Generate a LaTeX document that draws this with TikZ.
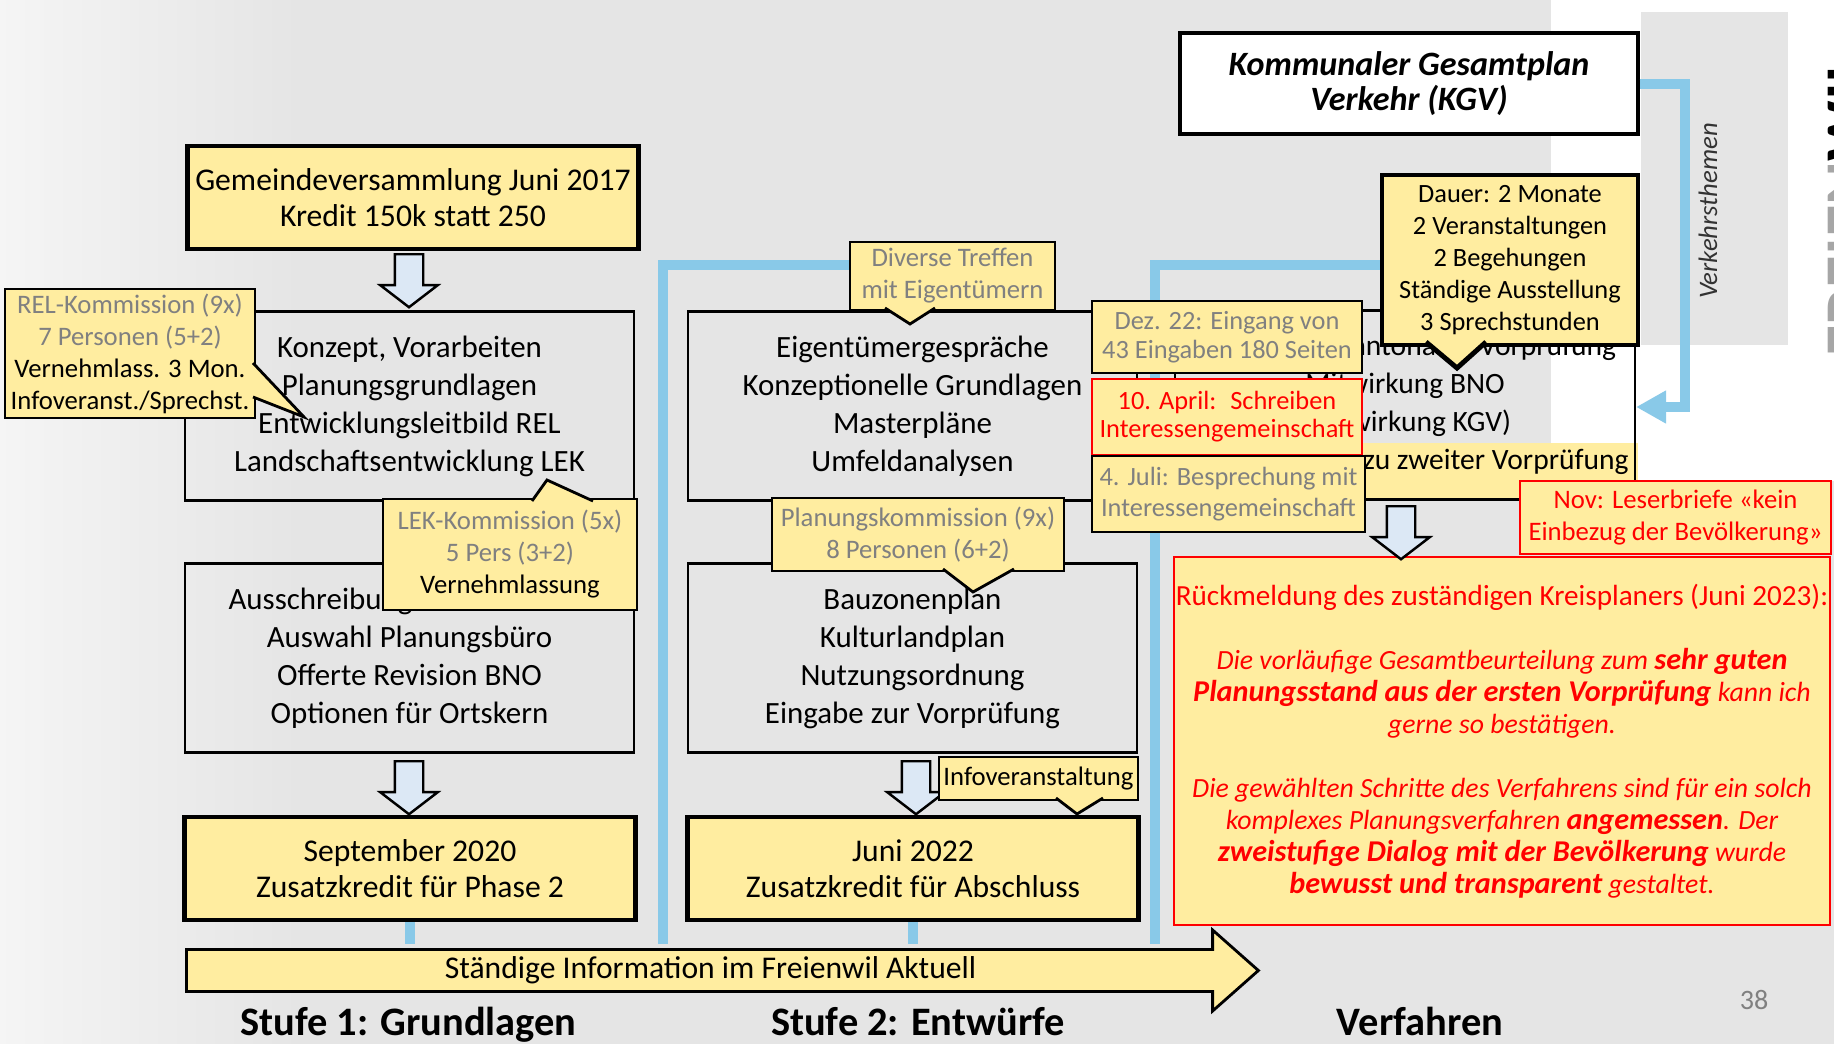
\documentclass[tikz,border=0pt]{standalone}
\usepackage{fontspec}
\setmainfont{Carlito}
\usetikzlibrary{shapes.arrows,arrows.meta,calc}
\definecolor{hgrau}{RGB}{229,229,229}
\definecolor{kgelb}{RGB}{255,237,160}
\definecolor{pfeilblau}{RGB}{220,232,245}
\definecolor{stufenblau}{RGB}{137,201,232}
\definecolor{txtgrau}{RGB}{128,128,128}
\definecolor{kred}{RGB}{255,0,0}
\newcommand{\ingrau}[1]{\textcolor{txtgrau}{#1}}
\newcommand{\fett}[1]{{\fontsize{8.6}{9.1}\selectfont\bfseries #1}}

\begin{document}
\begin{tikzpicture}[x=0.1mm, y=-0.1mm,
            every node/.style = {align=center, inner sep=0pt},
            arbeitbox/.style = {draw, line width=0.6pt, minimum width=44.9mm, minimum height=18.9mm,
                font=\fontsize{8.8}{10.8}\selectfont},
            kreditbox/.style = {draw, fill=kgelb, line width=1.2pt, minimum width=45.1mm, minimum height=10.3mm,
                font=\fontsize{9}{10.2}\selectfont},
            notiz/.style = {draw, fill=kgelb, line width=0.8pt, font=\fontsize{7.6}{9.1}\selectfont},
            zipfel/.style = {fill=kgelb, draw, line width=0.8pt},
            blockpfeil/.style = {single arrow, draw, fill=pfeilblau, line width=0.7pt, rotate=-90, anchor=tail,
                inner xsep=0pt, inner ysep=1.3mm, minimum height=5.3mm, single arrow head extend=1.45mm,
                single arrow tip angle=105},
            stufenlinie/.style = {draw=stufenblau, line width=1mm},
            stufe/.style = {anchor=base, font=\fontsize{11.5}{13}\selectfont\bfseries}
        ]
        \useasboundingbox (0,0) rectangle (1834,1044);
        \clip (0,0) rectangle (1834,1044);
        \fill[hgrau] (0,0) rectangle (1834,1044);
        \shade[left color=black!4, right color=hgrau] (0,0) rectangle (300,1044);
        \fill[white] (1551,0) rectangle (1834,481);
        \fill[hgrau] (1641,12) rectangle (1788,345);
        \node[rotate=90, anchor=north west, font=\fontsize{19}{19}\selectfont\bfseries] (logo) at (1827,357)
            {\textcolor{black!35}{FREIEN}WIL};

        \node[draw, fill=white, line width=0.9pt, minimum width=45.8mm, minimum height=10.1mm,
            font=\fontsize{9.7}{10}\selectfont\bfseries\itshape] (kgv) at (1409,83.5)
            {Kommunaler Gesamtplan\\Verkehr (KGV)};
        \node[rotate=90, font=\fontsize{7.6}{9}\selectfont\itshape, text=black!80] (vt) at (1708,211) {Verkehrsthemen};

        \coordinate (bandoben) at (0,944);
        \coordinate (s2ecke) at (663,265);
        \coordinate (s3ecke) at (1155,265);
        \coordinate (kgvknick) at (1685,407);

        \fill[kgelb] (1178,443) rectangle (1638,500);
        \node[arbeitbox, minimum width=46mm, font=\fontsize{8.4}{10.8}\selectfont] (s3) at (1405,405)
            {Eingabe zur kantonalen Vorprüfung\\Mitwirkung BNO\\(Mitwirkung KGV)\\Überarbeitung zu zweiter Vorprüfung};

        \node[kreditbox] (gv) at (413,197.5) {Gemeindeversammlung Juni 2017\\Kredit 150k statt 250};
        \node[arbeitbox] (konz) at (409.5,406)
            {Konzept, Vorarbeiten\\Planungsgrundlagen\\Entwicklungsleitbild REL\\Landschaftsentwicklung LEK};
        \node[arbeitbox] (aus) at (409.5,658)
            {Ausschreibung BNO-Revision\\Auswahl Planungsbüro\\Offerte Revision BNO\\Optionen für Ortskern};
        \node[kreditbox] (sep) at (410,868.5) {September 2020\\Zusatzkredit für Phase 2};
        \node[arbeitbox] (eig) at (912.5,406)
            {Eigentümergespräche\\Konzeptionelle Grundlagen\\Masterpläne\\Umfeldanalysen};
        \node[arbeitbox] (bau) at (912.5,658)
            {Bauzonenplan\\Kulturlandplan\\Nutzungsordnung\\Eingabe zur Vorprüfung};
        \node[kreditbox] (jun) at (913,868.5) {Juni 2022\\Zusatzkredit für Abschluss};

        \node[draw=kred, fill=kgelb, line width=0.7pt, minimum width=65.6mm, minimum height=36.8mm, text=kred,
            font=\fontsize{7.9}{9.1}\selectfont\itshape] (rueck) at (1502,741)
            {{\fontsize{8.3}{9.1}\selectfont\upshape Rückmeldung des zuständigen Kreisplaners (Juni 2023):}\\[9.1pt]
            Die vorläufige Gesamtbeurteilung zum \fett{sehr guten}\\
            \fett{Planungsstand aus der ersten Vorprüfung} kann ich\\
            gerne so bestätigen.\\[9.1pt]
            Die gewählten Schritte des Verfahrens sind für ein solch\\
            komplexes Planungsverfahren \fett{angemessen}. Der\\
            \fett{zweistufige Dialog mit der Bevölkerung} wurde\\
            \fett{bewusst und transparent} gestaltet.};

        \draw[stufenlinie] (sep.south) -- (sep.south |- bandoben);
        \draw[stufenlinie] (jun.south) -- (jun.south |- bandoben);
        \draw[stufenlinie] (952,265) -- (s2ecke) -- (s2ecke |- bandoben);
        \draw[stufenlinie] (1450,265) -- (s3ecke) -- (s3ecke |- bandoben);
        \draw[stufenlinie, -{Triangle[length=3mm, width=3.1mm]}] (kgv.east) -| (kgvknick) -- (kgvknick -| s3.east);

        \node[blockpfeil] (p1) at (409,253) {};
        \node[blockpfeil] (p2) at (409,760) {};
        \node[blockpfeil] (p3) at (916,760) {};
        \node[blockpfeil] (p4) at (1401,505) {};

        \node[single arrow, draw, fill=kgelb, line width=0.8pt, anchor=tail, minimum height=107.2mm, minimum width=8.1mm,
            single arrow head extend=1.4mm, single arrow tip angle=83, font=\fontsize{9}{9.5}\selectfont] (info)
            at (185,970.5) {Ständige Information im Freienwil Aktuell};

        \node[notiz, minimum width=25mm, minimum height=12.9mm] (rel) at (130,353.5)
            {\ingrau{REL-Kommission (9x)}\\\ingrau{7 Personen (5+2)}\\Vernehmlass. 3 Mon.\\Infoveranst./Sprechst.};
        \filldraw[zipfel] (253,363) -- (304,417) -- (253,397);
        \node[notiz, minimum width=25.4mm, minimum height=11.1mm] (lek) at (510,554.5)
            {\ingrau{LEK-Kommission (5x)}\\\ingrau{5 Pers (3+2)}\\Vernehmlassung};
        \filldraw[zipfel] (532,501) -- (547,480) -- (593,501);
        \node[notiz, minimum width=20.5mm, minimum height=6.8mm, text=txtgrau] (dtr) at (952.5,276)
            {Diverse Treffen\\mit Eigentümern};
        \filldraw[zipfel] (885,308) -- (910,324) -- (935,308);
        \node[notiz, minimum width=29.2mm, minimum height=7.3mm, text=txtgrau] (pk) at (918,534.5)
            {Planungskommission (9x)\\8 Personen (6+2)};
        \filldraw[zipfel] (943,569) -- (973,592) -- (1014,569);
        \node[notiz, minimum width=19.9mm, minimum height=4.3mm] (iva) at (1038.5,778.5) {Infoveranstaltung};
        \filldraw[zipfel] (1056,798) -- (1077,814) -- (1103,798);
        \node[notiz, line width=1.4pt, minimum width=25.6mm, minimum height=17mm, font=\fontsize{7.5}{9.1}\selectfont]
            (dauer) at (1510,260)
            {Dauer: 2 Monate\\2 Veranstaltungen\\2 Begehungen\\Ständige Ausstellung\\3 Sprechstunden};
        \filldraw[zipfel, line width=1.4pt] (1426,342) -- (1457,368) -- (1486,342);
        \node[notiz, minimum width=27mm, minimum height=7.2mm, text=txtgrau, font=\fontsize{7.5}{8.3}\selectfont]
            (dez) at (1227,337) {Dez. 22: Eingang von\\43 Eingaben 180 Seiten};
        \node[notiz, draw=kred, minimum width=27mm, minimum height=7.6mm, text=kred, font=\fontsize{7.5}{8}\selectfont]
            (apr) at (1227,417) {10. April:~ Schreiben\\Interessengemeinschaft};
        \node[notiz, minimum width=27.3mm, minimum height=7.6mm, text=txtgrau, font=\fontsize{7.5}{8.8}\selectfont]
            (jul) at (1228.5,494) {4. Juli: Besprechung mit\\Interessengemeinschaft};
        \node[notiz, draw=kred, minimum width=31.1mm, minimum height=7.3mm, text=kred] (nov) at (1675.5,517.5)
            {Nov: Leserbriefe «kein\\Einbezug der Bevölkerung»};

        \node[stufe] (st1) at (408.5,1035) {Stufe 1: Grundlagen};
        \node[stufe] (st2) at (918,1035) {Stufe 2: Entwürfe};
        \node[stufe] (st3) at (1420,1035) {Verfahren};
        \node[font=\fontsize{8}{9}\selectfont, text=txtgrau] (seite) at (1754,1000) {38};
    \end{tikzpicture}
\end{document}
